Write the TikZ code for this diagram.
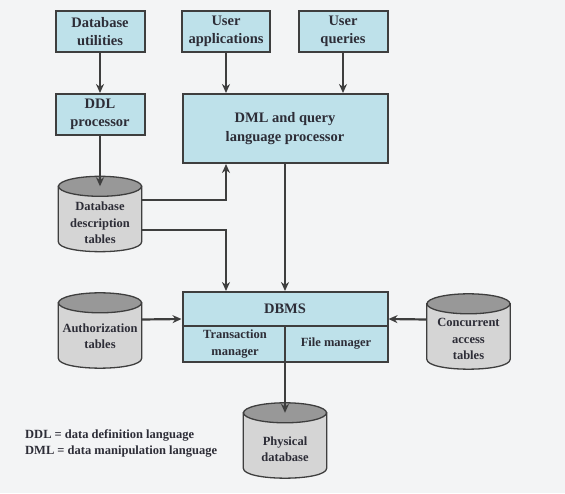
\documentclass[tikz,border=0pt]{standalone}
\usepackage{fontspec}
\setmainfont{Liberation Serif}
\usepackage{tikz}
\usetikzlibrary{arrows.meta}
\definecolor{boxblue}{RGB}{190,225,234}
\definecolor{cylbody}{RGB}{213,213,213}
\definecolor{cyltop}{RGB}{152,152,152}
\definecolor{linegray}{RGB}{62,62,62}
\definecolor{txtgray}{RGB}{45,45,55}
\definecolor{bggray}{RGB}{243,244,245}
% cylinder drawn round a named (invisible) node
\newcommand{\drawstore}[1]{%
  \filldraw[fill=cylbody,draw=linegray,line width=1.3pt]
    ([yshift=-10pt]#1.north west) -- ([yshift=10pt]#1.south west)
    .. controls ([yshift=-3.3pt]#1.south west) and ([yshift=-3.3pt]#1.south east) ..
    ([yshift=10pt]#1.south east) -- ([yshift=-10pt]#1.north east) -- cycle;
  \filldraw[fill=cyltop,draw=linegray,line width=1.3pt]
    ([yshift=-10pt]#1.north) ellipse [x radius=41.5pt,y radius=10pt];}

\begin{document}
\begin{tikzpicture}[x=1pt,y=-1pt,
  box/.style={draw=linegray,line width=2pt,fill=boxblue,inner sep=0pt,
    align=center,text=txtgray,font=\bfseries\fontsize{14.5}{18.5}\selectfont},
  store/.style={minimum width=83pt,minimum height=75pt,inner sep=0pt},
  lbl/.style={align=center,text=txtgray,inner sep=0pt,font=\bfseries\fontsize{12.5}{16.5}\selectfont},
  arr/.style={draw=linegray,line width=2.2pt,-{Stealth[length=9pt,width=8pt]}}]
% background
\fill[bggray] (0,0) rectangle (565,493);
\useasboundingbox (0,0) rectangle (565,493);
% top row
\node[box,minimum width=89pt,minimum height=41pt] (util) at (100,31.5) {Database\\utilities};
\node[box,minimum width=88pt,minimum height=41pt] (uapp) at (226,31.5) {User\\applications};
\node[box,minimum width=89pt,minimum height=41pt] (uqry) at (343,31.5) {User\\queries};
% processors
\node[box,minimum width=89pt,minimum height=41pt] (ddl) at (100,114.5) {DDL\\processor};
\node[box,minimum width=205pt,minimum height=69pt] (dml) at (285,128.5) {DML and query\\language processor};
% tables
\node[store] (ddt) at (100,214) {};
\drawstore{ddt}
\node[lbl] (ddtlbl) at (100,223) {Database\\description\\tables};
\node[store] (auth) at (100,330.5) {};
\drawstore{auth}
\node[lbl] (authlbl) at (100,336) {Authorization\\tables};
\node[store] (conc) at (468.5,331.5) {};
\drawstore{conc}
\node[lbl] (conclbl) at (468.5,339) {Concurrent\\access\\tables};
\node[store] (phys) at (285,440.5) {};
\drawstore{phys}
\node[lbl] (physlbl) at (285,449) {Physical\\database};
% dbms
\node[box,minimum width=205pt,minimum height=70pt] (dbms) at (285,327) {};
\draw[linegray,line width=2pt] (dbms.west |- 0,326) -- (dbms.east |- 0,326);
\draw[linegray,line width=2pt] (285,326) -- (dbms.south);
\node[lbl,font=\bfseries\fontsize{14.5}{18}\selectfont] (dbmslbl) at (285,309) {DBMS};
\node[lbl] (trans) at (235,344) {Transaction\\manager};
\node[lbl] (file) at (336,344) {File manager};
% legend
\node[lbl,align=left,anchor=north west] (legend) at (25,429)
  {DDL = data definition language\\DML = data manipulation language};
% arrows
\draw[arr] (util) -- (ddl);
\draw[arr] (uapp.south) -- (uapp.south |- dml.north);
\draw[arr] (uqry.south) -- (uqry.south |- dml.north);
\draw[arr] (ddl.south) -- ([yshift=-10pt]ddt.north);
\draw[arr] ([yshift=14pt]ddt.east) -| (dml.south -| uapp);
\draw[arr] ([yshift=-16pt]ddt.east) -| (dbms.north -| uapp);
\draw[arr] (dml.south) -- (dbms.north);
\draw[arr] ([yshift=11pt]auth.east) -- (dbms.west |- 0,319);
\draw[arr] ([yshift=12pt]conc.west) -- (dbms.east |- 0,319);
\draw[arr] (dbms.south) -- ([yshift=-10pt]phys.north);
\end{tikzpicture}
\end{document}
